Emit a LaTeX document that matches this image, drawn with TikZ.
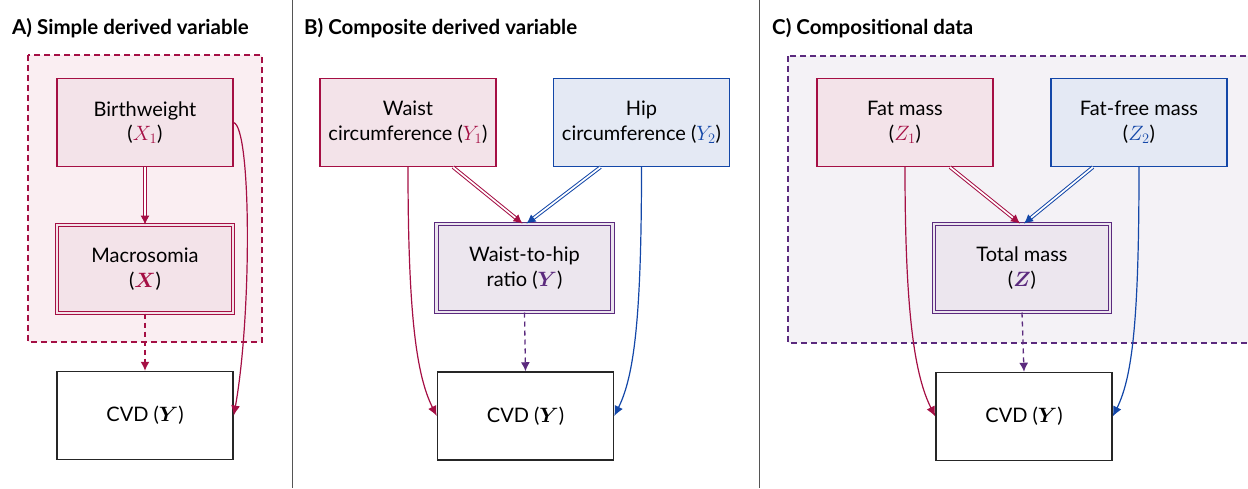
\documentclass[tikz,border=0pt]{standalone}
\usepackage{fontspec}
\setmainfont{Lato}
\usepackage{amsmath}
\usetikzlibrary{arrows.meta}

\definecolor{crim}{HTML}{A50F44}
\definecolor{blu}{HTML}{1347A8}
\definecolor{purp}{HTML}{5B2A7E}
\definecolor{pinkfill}{HTML}{F3E3E9}
\definecolor{bluefill}{HTML}{E4E9F4}
\definecolor{purpfill}{HTML}{ECE6EE}
\definecolor{grpA}{HTML}{FAEEF2}
\definecolor{grpC}{HTML}{F4F2F6}
\definecolor{divider}{HTML}{555555}

\tikzset{
  var/.style={rectangle, line width=1.2pt, minimum width=176pt, minimum height=88pt,
    align=center, inner sep=1pt, font=\fontsize{20}{24.5}\selectfont},
  redbox/.style={var, draw=crim, fill=pinkfill},
  bluebox/.style={var, draw=blu, fill=bluefill},
  derivedbox/.style 2 args={var, draw=#1, double=#2, double distance=2.6pt, line width=1pt, fill=#2},
  outcome/.style={var, draw=black!85, line width=1.5pt, fill=white},
  grouprect/.style={line width=1.4pt, dash pattern=on 6pt off 4pt},
  dblarrow/.style={draw=#1, double=white, double distance=1.7pt, line width=1pt,
    -{Latex[length=9pt,width=9pt]}},
  effect/.style={draw=#1, line width=1.2pt, -{Latex[length=10pt,width=9pt]}},
  dasharrow/.style={draw=#1, line width=1.3pt, dash pattern=on 5pt off 4pt,
    -{Latex[length=9pt,width=9pt]}},
  paneltitle/.style={anchor=base west, inner sep=0pt, font=\fontsize{20.5}{24}\selectfont\bfseries},
}

\begin{document}
\begin{tikzpicture}[x=1pt, y=-1pt]
\useasboundingbox (0,0) rectangle (1248,488);
\clip (0,0) rectangle (1248,488);

% panel separators
\draw[divider, line width=1pt] (292,0) -- (292,488);
\draw[divider, line width=1pt] (759,0) -- (759,488);

% panel titles
\node[paneltitle] (tA) at (12,34) {A) Simple derived variable};
\node[paneltitle] (tB) at (304,34) {B) Composite derived variable};
\node[paneltitle] (tC) at (772,34) {C) Compositional data};

% grouping frames
\draw[grouprect, draw=crim, fill=grpA] (28,55) rectangle (262,342);
\draw[grouprect, draw=purp, fill=grpC] (788,56) rectangle (1260,343);

% ---- A) simple derived variable
\node[redbox] (bw) at (145,122.5) {Birthweight\\(\textcolor{crim}{$X_1$})};
\node[derivedbox={crim}{pinkfill}] (mac) at (145,269) {Macrosomia\\(\textcolor{crim}{$\boldsymbol{X}$})};
\node[outcome] (cvdA) at (145,415.5) {CVD ($\boldsymbol{Y}$)};

\draw[dblarrow=crim] (bw.south) -- (mac.north);
\draw[dasharrow=crim] (mac.south) -- (cvdA.north);
\draw[effect=crim] (bw.east) .. controls +(18,5) and +(18,-100) .. (cvdA.east);

% ---- B) composite derived variable
\node[redbox] (waist) at (408,122.5) {Waist\\circumference (\textcolor{crim}{$Y_1$})};
\node[bluebox] (hip) at (641.5,122.5) {Hip\\circumference (\textcolor{blu}{$Y_2$})};
\node[derivedbox={purp}{purpfill}] (ratio) at (524.5,268) {Waist-to-hip\\ratio (\textcolor{purp}{$\boldsymbol{Y}$})};
\node[outcome] (cvdB) at (525.5,416) {CVD ($\boldsymbol{Y}$)};

\draw[dblarrow=crim] ([xshift=45pt]waist.south) -- ([xshift=-2pt]ratio.north);
\draw[dblarrow=blu] ([xshift=-41pt]hip.south) -- ([xshift=2pt]ratio.north);
\draw[dasharrow=purp] (ratio.south) -- (cvdB.north);
\draw[effect=crim] (waist.south) .. controls +(0,150) and +(-20,-40) .. (cvdB.west);
\draw[effect=blu] (hip.south) .. controls +(0,150) and +(20,-40) .. (cvdB.east);

% ---- C) compositional data
\node[redbox] (fat) at (905,122.5) {Fat mass\\(\textcolor{crim}{$Z_1$})};
\node[bluebox] (ffm) at (1139,122.5) {Fat-free mass\\(\textcolor{blu}{$Z_2$})};
\node[derivedbox={purp}{purpfill}] (total) at (1022,268) {Total mass\\(\textcolor{purp}{$\boldsymbol{Z}$})};
\node[outcome] (cvdC) at (1024,416.5) {CVD ($\boldsymbol{Y}$)};

\draw[dblarrow=crim] ([xshift=45pt]fat.south) -- ([xshift=-2pt]total.north);
\draw[dblarrow=blu] ([xshift=-46pt]ffm.south) -- ([xshift=2pt]total.north);
\draw[dasharrow=purp] (total.south) -- (cvdC.north);
\draw[effect=crim] (fat.south) .. controls +(0,150) and +(-20,-40) .. (cvdC.west);
\draw[effect=blu] (ffm.south) .. controls +(0,150) and +(20,-40) .. (cvdC.east);
\end{tikzpicture}
\end{document}
